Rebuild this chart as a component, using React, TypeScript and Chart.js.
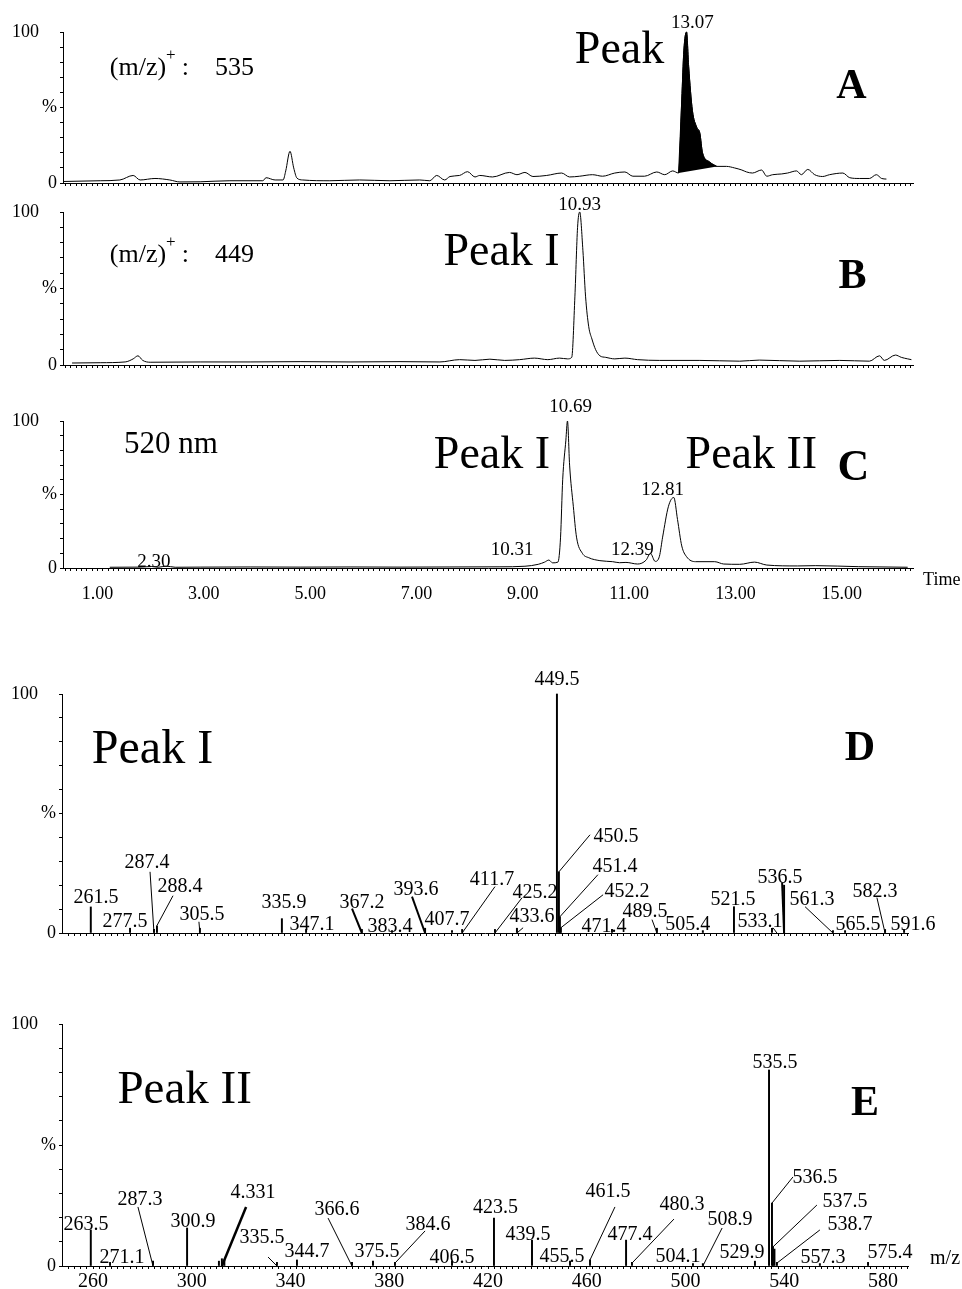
import React, { useEffect, useRef } from "react";
import { Chart, registerables } from "chart.js";

Chart.register(...registerables);

const SERIF = "'Liberation Serif', 'Times New Roman', Times, serif";

// ---------------- DATA ----------------
// Chromatogram A: (m/z)+ 535 — [time, %]
const chromA: [number, number][] = [
  [0.35, 1], [1.05, 1.5], [1.42, 2], [1.67, 5], [1.8, 2], [2.08, 3], [2.36, 2], [2.55, 0.7], [2.93, 0.8],
  [3.49, 1.5], [4.11, 1.5], [4.17, 3.5], [4.34, 2], [4.49, 2], [4.54, 8], [4.62, 21], [4.69, 10], [4.75, 3.3],
  [4.86, 2], [5.37, 1.5], [5.93, 2], [6.5, 1.5], [7.06, 2], [7.25, 1.5], [7.38, 5], [7.53, 2], [7.63, 4.3],
  [7.81, 5], [7.96, 7.5], [8.1, 4], [8.19, 5], [8.43, 4], [8.75, 7], [8.89, 5.5], [9.04, 7], [9.19, 4.3],
  [9.45, 5], [9.73, 6.6], [9.88, 4], [10.07, 4.5], [10.31, 5.5], [10.5, 4.5], [10.73, 6.6], [10.92, 7.3],
  [11.07, 4.5], [11.29, 4.5], [11.52, 7.3], [11.67, 5.5], [11.82, 8], [11.93, 6.6], [11.99, 55], [12.03, 88],
  [12.08, 100], [12.12, 77], [12.19, 48], [12.27, 37], [12.33, 33], [12.38, 20], [12.51, 14], [12.65, 11],
  [12.83, 11], [12.98, 10], [13.12, 8.6], [13.21, 7.3], [13.32, 6.6], [13.49, 8.6], [13.59, 4.5], [13.7, 5.5],
  [13.87, 6], [13.98, 6.6], [14.15, 8], [14.24, 5.5], [14.36, 9], [14.49, 5.5], [14.64, 4.3], [14.77, 5.5],
  [15.02, 6.6], [15.15, 3.5], [15.33, 3], [15.52, 3], [15.65, 5.5], [15.75, 3], [15.84, 2.6],
];
// Integrated (black) part of the 13.07 peak
const peakAreaA: [number, number][] = [
  [11.93, 6.6], [11.99, 55], [12.03, 88], [12.08, 100], [12.12, 77], [12.19, 48], [12.27, 37], [12.33, 33],
  [12.38, 20], [12.51, 14], [12.65, 11],
];

// Chromatogram B: (m/z)+ 449
const chromB: [number, number][] = [
  [0.52, 1.3], [1.05, 1.5], [1.52, 2], [1.67, 4], [1.76, 6], [1.85, 3], [1.99, 1.8], [2.93, 2], [3.87, 2],
  [4.81, 2.2], [5.75, 2], [6.69, 2.2], [7.44, 2], [7.81, 3.5], [8.1, 3], [8.38, 3.8], [8.66, 3], [8.94, 3.5],
  [9.22, 4.5], [9.47, 3.5], [9.69, 4.5], [9.84, 4], [9.92, 5], [9.98, 45], [10.03, 90], [10.07, 100],
  [10.13, 75], [10.18, 45], [10.24, 25], [10.3, 17], [10.37, 10], [10.45, 6], [10.56, 5], [10.73, 4],
  [10.92, 4.5], [11.16, 3.5], [11.57, 3], [12.33, 3], [13.08, 2.5], [13.45, 3.2], [14.21, 2.5], [14.96, 3],
  [15.52, 2.5], [15.71, 6], [15.8, 3], [16.01, 6.5], [16.12, 5], [16.24, 4], [16.31, 3.5],
];

// Chromatogram C: 520 nm
const chromC: [number, number][] = [
  [1.23, 0.5], [1.8, 0.6], [2.02, 1.0], [2.14, 0.5], [2.29, 1.3], [2.46, 0.5], [2.93, 0.6], [3.87, 0.7],
  [4.81, 0.6], [5.75, 0.7], [6.69, 0.6], [7.63, 0.7], [8.57, 0.8], [9.04, 1.2], [9.29, 2.5], [9.41, 4],
  [9.49, 5.4], [9.56, 3.5], [9.66, 4], [9.71, 21], [9.75, 60], [9.81, 87], [9.84, 100], [9.88, 70],
  [9.95, 42], [10.01, 21], [10.12, 10], [10.24, 7], [10.45, 5], [10.69, 4.3], [10.82, 3.6], [10.94, 3.8],
  [11.16, 2.7], [11.32, 5.4], [11.4, 10], [11.49, 4.5], [11.57, 8], [11.63, 21], [11.74, 42], [11.84, 48],
  [11.91, 33], [11.99, 15], [12.08, 7.7], [12.25, 4.3], [12.61, 4.3], [12.78, 2.7], [13.08, 2.5], [13.36, 4],
  [13.59, 2], [14.17, 1.4], [14.51, 1.6], [15.32, 0.9], [16.24, 0.5],
];

// Mass spectrum D (Peak I): [m/z, %]
const spectrumD: [number, number][] = [
  [259.1, 10.9], [275.0, 2], [284.7, 1.5], [285.9, 3], [303.3, 2], [336.5, 6], [346.3, 1.5], [368.9, 1.5],
  [381.1, 1], [394.5, 2], [405.4, 1], [409.5, 1.5], [422.8, 1.5], [431.7, 2], [447.9, 100], [448.7, 25.6],
  [449.1, 6.8], [449.5, 2.2], [470.2, 1.5], [488.4, 2], [507.0, 1], [519.6, 11], [535.0, 2], [539.9, 20],
  [559.7, 1], [564.6, 1], [580.8, 1.5], [588.5, 1.5],
];

// Mass spectrum E (Peak II)
const spectrumE: [number, number][] = [
  [259.1, 14.9], [266.9, 1.5], [284.3, 2], [298.1, 15.7], [311.0, 2], [312.2, 3], [313.2, 2.5], [334.5, 1.5],
  [342.6, 2.5], [364.9, 1.5], [373.4, 2], [382.3, 1.5], [405.4, 2], [422.4, 19.8], [437.8, 10.7], [453.2, 2],
  [461.3, 2.5], [475.9, 10.7], [478.3, 1.5], [503.0, 1], [507.0, 1], [528.1, 2], [533.8, 81], [535.0, 26],
  [535.4, 7.9], [536.0, 7], [537.0, 1.5], [554.4, 1], [573.9, 1.5],
];

// Tick labels
const timeTickLabels = [1, 3, 5, 7, 9, 11, 13, 15];
const mzTickLabels = [260, 300, 340, 380, 420, 460, 500, 540, 580];

// Peak annotations [text, x, y] (placement in axis units)
const peakLabelsA: [string, number, number][] = [["13.07", 12.19, 102.6]];
const peakLabelsB: [string, number, number][] = [["10.93", 10.07, 101.3]];
const peakLabelsC: [string, number, number][] = [
  ["10.69", 9.9, 106], ["12.81", 11.63, 49.7], ["10.31", 8.8, 8.8], ["12.39", 11.06, 8.8], ["2.30", 2.06, 0.7],
];
const peakLabelsD: [string, number, number][] = [
  ["449.5", 447.9, 103.9], ["261.5", 261.2, 12.7], ["277.5", 273.0, 2.6], ["287.4", 281.9, 27.3],
  ["288.4", 295.2, 17.3], ["305.5", 304.1, 5.6], ["335.9", 337.4, 10.6], ["347.1", 348.7, 1.4],
  ["367.2", 368.9, 10.6], ["383.4", 380.3, 0.5], ["393.6", 390.8, 16.0], ["407.7", 403.4, 3.5],
  ["411.7", 421.6, 20.2], ["425.2", 439.0, 14.8], ["433.6", 437.8, 4.4], ["450.5", 471.8, 38.2],
  ["451.4", 471.4, 25.6], ["452.2", 476.3, 15.2], ["471.4", 467.0, 0.5], ["489.5", 483.6, 6.8],
  ["505.4", 500.9, 1.4], ["521.5", 519.2, 11.8], ["533.1", 530.1, 2.6], ["536.5", 538.2, 21.1],
  ["561.3", 551.2, 11.8], ["565.5", 569.8, 1.4], ["582.3", 576.7, 15.2], ["591.6", 592.1, 1.4],
];
const peakLabelsE: [string, number, number][] = [
  ["535.5", 536.2, 81.8], ["263.5", 257.2, 14.9], ["271.1", 271.7, 1.2], ["287.3", 279.0, 25.2],
  ["300.9", 300.5, 16.1], ["4.331", 324.8, 28.1], ["335.5", 328.4, 9.5], ["344.7", 346.7, 3.7],
  ["366.6", 358.8, 21.1], ["375.5", 375.0, 3.7], ["384.6", 395.7, 14.9], ["406.5", 405.4, 1.2],
  ["423.5", 423.0, 21.9], ["439.5", 436.2, 10.7], ["455.5", 450.0, 1.7], ["461.5", 468.6, 28.5],
  ["477.4", 477.5, 10.7], ["480.3", 498.6, 23.1], ["504.1", 496.9, 1.7], ["508.9", 518.0, 16.9],
  ["529.9", 522.9, 3.3], ["536.5", 552.4, 34.3], ["537.5", 564.6, 24.4], ["538.7", 566.6, 14.9],
  ["557.3", 555.7, 1.2], ["575.4", 582.8, 3.3],
];

// Leader lines [x1, y1, x2, y2, width]
const leadersD: number[][] = [
  [283.1, 25.6, 284.7, 0, 1], [292.4, 15.6, 285.9, 3.1, 1], [302.9, 4.7, 303.3, 0, 1], [364.9, 10.2, 368.9, 0, 2],
  [389.2, 15.2, 394.5, 0, 2], [422.8, 19.4, 409.5, 0, 1], [433.8, 14.8, 422.8, 0, 1], [434.2, 2.2, 431.7, 0, 1],
  [461.3, 41.1, 448.7, 25.6, 1], [464.5, 24.4, 449.1, 6.8, 1], [466.6, 16.0, 449.5, 2.2, 1], [486.4, 5.6, 488.4, 0, 1],
  [535.4, 2.2, 537.0, 0, 1], [539.1, 21.1, 539.9, 0, 2], [548.4, 11.0, 559.7, 0, 1], [577.5, 14.8, 580.8, 0, 1],
];
const leadersE: number[][] = [
  [278.2, 24.4, 284.3, 0, 1], [322.0, 24.4, 312.2, 0, 2.5], [330.9, 3.7, 334.5, 0, 1], [355.2, 19.8, 364.9, 0, 1],
  [394.5, 14.5, 382.3, 1.2, 1], [471.4, 24.4, 461.3, 2.5, 1], [495.3, 19.4, 478.3, 1.2, 1], [514.8, 15.7, 507.0, 0, 1],
  [543.5, 36.8, 535.0, 26.0, 1], [553.2, 25.2, 535.4, 7.9, 1], [554.4, 14.9, 537.0, 1.2, 1],
];

// ---------------- LAYOUT / CONFIG ----------------
type Txt = [string, number, number, number, boolean];

const timeTickValues = Array.from({ length: 160 }, (_, i) => (i + 4) / 10);
const mzTickValues = Array.from({ length: 137 }, (_, i) => 250 + i * 2.5);

const toPts = (arr: [number, number][]) => arr.map(([x, y]) => ({ x, y }));

const lineDs = (arr: [number, number][]) => ({
  type: "line",
  data: toPts(arr),
  borderColor: "#000",
  borderWidth: 1,
  pointRadius: 0,
  cubicInterpolationMode: "monotone",
  fill: false,
  clip: false,
});

const barDs = (arr: [number, number][]) => ({
  type: "bar",
  data: toPts(arr),
  backgroundColor: "#000",
  borderWidth: 0,
  barThickness: 1.3,
  clip: false,
});

const withSize = (arr: [string, number, number][], size: number): Txt[] =>
  arr.map(([t, x, y]) => [t, x, y, size, false]);

const panels: any[] = [
  {
    top: 0, height: 205, plotTop: 32, plotBottom: 183, left: 63, right: 913,
    xMin: 0.35, xMax: 16.34, xTicks: timeTickValues, kind: "line",
    datasets: [
      lineDs(chromA),
      { ...lineDs(peakAreaA), fill: "shape", backgroundColor: "#000" },
    ],
    texts: [["Peak", 10.82, 79.5, 46, false], ["A", 15.18, 56.3, 42, true], ...withSize(peakLabelsA, 19)],
    rich: ["535", 1.23, 71.5],
  },
  {
    top: 190, height: 200, plotTop: 22, plotBottom: 175, left: 63, right: 913,
    xMin: 0.35, xMax: 16.34, xTicks: timeTickValues, kind: "line",
    datasets: [lineDs(chromB)],
    texts: [["Peak I", 8.6, 65.4, 46, false], ["B", 15.2, 50.3, 42, true], ...withSize(peakLabelsB, 19)],
    rich: ["449", 1.23, 67.3],
  },
  {
    top: 372, height: 240, plotTop: 49, plotBottom: 196, left: 63, right: 913,
    xMin: 0.35, xMax: 16.34, xTicks: timeTickValues, kind: "line",
    xLabel: (v: number) => (timeTickLabels.some((t) => Math.abs(t - v) < 1e-6) ? v.toFixed(2) : ""),
    xLabelSize: 18, xPad: 12,
    datasets: [lineDs(chromC)],
    texts: [
      ["520 nm", 2.38, 78.2, 31, false], ["Peak I", 8.42, 68, 46, false], ["Peak II", 13.3, 68, 46, false],
      ["C", 15.22, 60, 44, true], ["Time", 16.88, -11.6, 18, false], ...withSize(peakLabelsC, 19),
    ],
  },
  {
    top: 612, height: 345, plotTop: 82, plotBottom: 321, left: 62, right: 908,
    xMin: 247.44, xMax: 590.09, xTicks: mzTickValues, kind: "bar",
    datasets: [barDs(spectrumD)],
    texts: [["Peak I", 284.1, 71.3, 48, false], ["D", 570.6, 72.2, 42, true], ...withSize(peakLabelsD, 20)],
    leaders: leadersD,
  },
  {
    top: 942, height: 347, plotTop: 82, plotBottom: 324, left: 62, right: 908,
    xMin: 247.44, xMax: 590.09, xTicks: mzTickValues, kind: "bar",
    xLabel: (v: number) => (mzTickLabels.some((t) => Math.abs(t - v) < 1e-6) ? String(Math.round(v)) : ""),
    xLabelSize: 20, xPad: 1,
    datasets: [barDs(spectrumE)],
    texts: [["Peak II", 297.1, 67.4, 47, false], ["E", 572.7, 62.4, 42, true], ["m/z", 605.1, 0.8, 20, false],
      ...withSize(peakLabelsE, 20)],
    leaders: leadersE,
  },
];

function notesPlugin(p: any) {
  return {
    id: "notes",
    afterDraw(chart: any) {
      const ctx = chart.ctx as CanvasRenderingContext2D;
      const xs = chart.scales.x;
      const ys = chart.scales.y;
      const X = (v: number) => xs.getPixelForValue(v);
      const Y = (v: number) => ys.getPixelForValue(v);
      ctx.save();
      ctx.strokeStyle = "#000";
      ctx.fillStyle = "#000";
      for (const [x1, y1, x2, y2, w] of p.leaders || []) {
        ctx.lineWidth = w || 1;
        ctx.beginPath();
        ctx.moveTo(X(x1), Y(y1));
        ctx.lineTo(X(x2), Y(y2));
        ctx.stroke();
      }
      ctx.textBaseline = "alphabetic";
      ctx.textAlign = "center";
      for (const [t, x, y, size, bold] of p.texts as Txt[]) {
        ctx.font = `${bold ? "bold " : ""}${size}px ${SERIF}`;
        ctx.fillText(t, X(x), Y(y));
      }
      if (p.rich) {
        const [num, rx, ry] = p.rich;
        let cx = X(rx);
        const by = Y(ry);
        ctx.textAlign = "left";
        ctx.font = `26px ${SERIF}`;
        ctx.fillText("(m/z)", cx, by);
        cx += ctx.measureText("(m/z)").width;
        ctx.font = `17px ${SERIF}`;
        ctx.fillText("+", cx, by - 15);
        cx += ctx.measureText("+").width;
        ctx.font = `26px ${SERIF}`;
        cx += 6;
        ctx.fillText(":", cx, by);
        cx += ctx.measureText(":").width + 26;
        ctx.fillText(num, cx, by);
      }
      ctx.restore();
    },
  };
}

function buildConfig(p: any): any {
  const axisGrid = { drawOnChartArea: false, drawTicks: true, tickLength: 3, tickColor: "#000", color: "#000", lineWidth: 1, offset: false };
  const border = { display: true, color: "#000", width: 1 };
  return {
    type: p.kind,
    data: { datasets: p.datasets },
    options: {
      responsive: false,
      maintainAspectRatio: false,
      animation: false,
      devicePixelRatio: 1,
      events: [],
      layout: { padding: { top: p.plotTop, left: 0, right: 962 - p.right, bottom: 0 } },
      plugins: { legend: { display: false }, tooltip: { enabled: false }, title: { display: false } },
      scales: {
        x: {
          type: "linear",
          min: p.xMin,
          max: p.xMax,
          offset: false,
          afterBuildTicks: (s: any) => {
            s.ticks = p.xTicks.map((v: number) => ({ value: v }));
          },
          afterFit: (s: any) => {
            s.height = p.height - p.plotBottom;
          },
          ticks: {
            display: !!p.xLabel,
            autoSkip: false,
            maxRotation: 0,
            minRotation: 0,
            padding: p.xPad ?? 2,
            color: "#000",
            font: { family: SERIF, size: p.xLabelSize || 18 },
            callback: (v: number) => (p.xLabel ? p.xLabel(v) : ""),
          },
          grid: axisGrid,
          border,
        },
        y: {
          min: 0,
          max: 100,
          afterFit: (s: any) => {
            s.width = p.left;
          },
          ticks: {
            stepSize: 10,
            autoSkip: false,
            padding: 3,
            color: "#000",
            font: { family: SERIF, size: 18 },
            callback: (v: number) => (v === 100 ? "100    " : v === 50 ? "%" : v === 0 ? "0" : ""),
          },
          grid: axisGrid,
          border,
        },
      },
    },
    plugins: [notesPlugin(p)],
  };
}

function ChartPanel({ cfg }: { cfg: any }) {
  const ref = useRef<HTMLCanvasElement>(null);
  useEffect(() => {
    if (!ref.current) return;
    const chart = new Chart(ref.current, buildConfig(cfg));
    return () => chart.destroy();
  }, [cfg]);
  return (
    <canvas
      ref={ref}
      width={962}
      height={cfg.height}
      style={{ position: "absolute", left: 0, top: cfg.top, width: 962, height: cfg.height, display: "block" }}
    />
  );
}

export default function App() {
  return (
    <div style={{ position: "absolute", left: 0, top: 0, width: 962, height: 1289, background: "#fff", overflow: "hidden" }}>
      {panels.map((p, i) => (
        <ChartPanel key={i} cfg={p} />
      ))}
    </div>
  );
}
